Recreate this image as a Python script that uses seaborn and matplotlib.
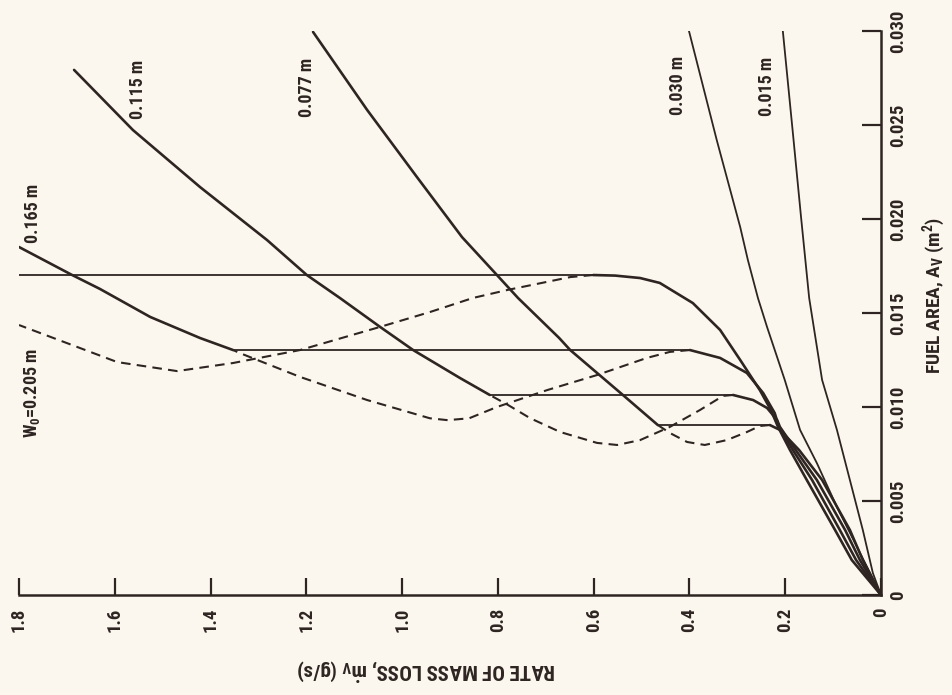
import matplotlib
matplotlib.use("Agg")
import matplotlib.pyplot as plt
from matplotlib import font_manager
import seaborn as sns

# ---- fuel width 0.015 m and 0.030 m : single stable branch ----
W015_AREA = [0, 0.00117, 0.00346, 0.00612, 0.00878, 0.01144, 0.01580, 0.02011, 0.02457, 0.0300]
W015_RATE = [0, 0.017, 0.038, 0.065, 0.092, 0.123, 0.150, 0.167, 0.184, 0.205]

W030_AREA = [0, 0.00255, 0.00468, 0.00702, 0.00878, 0.01144, 0.01426, 0.01580, 0.01782, 0.01957, 0.02420, 0.0300]
W030_RATE = [0, 0.050, 0.092, 0.134, 0.169, 0.201, 0.238, 0.257, 0.278, 0.294, 0.343, 0.401]

# ---- fuel width 0.077 m ----
W077_LO_AREA = [0, 0.00186, 0.00346, 0.00612, 0.00771, 0.00878, 0.00904]
W077_LO_RATE = [0, 0.038, 0.065, 0.123, 0.171, 0.211, 0.232]
W077_MID_AREA = [0.00904, 0.00899, 0.00867, 0.00824, 0.00798, 0.00814, 0.00862, 0.00904]
W077_MID_RATE = [0.232, 0.253, 0.280, 0.322, 0.368, 0.405, 0.441, 0.466]
W077_HI_AREA = [0.00904, 0.01064, 0.01303, 0.01367, 0.01580, 0.01702, 0.01904, 0.02223, 0.02580, 0.02995]
W077_HI_RATE = [0.466, 0.539, 0.649, 0.672, 0.758, 0.802, 0.875, 0.969, 1.073, 1.186]

# ---- fuel width 0.115 m ----
W115_LO_AREA = [0, 0.00186, 0.00346, 0.00612, 0.00771, 0.00894, 0.00931, 0.00995, 0.01037, 0.01064]
W115_LO_RATE = [0, 0.044, 0.075, 0.134, 0.178, 0.211, 0.217, 0.238, 0.267, 0.309]
W115_MID_AREA = [0.01064, 0.01059, 0.00984, 0.00894, 0.00824, 0.00798, 0.00809, 0.00867, 0.00941, 0.01011, 0.01064]
W115_MID_RATE = [0.309, 0.330, 0.378, 0.441, 0.503, 0.551, 0.593, 0.670, 0.733, 0.779, 0.817]
W115_HI_AREA = [0.01064, 0.01154, 0.01303, 0.01426, 0.01580, 0.01702, 0.01888, 0.02170, 0.02473, 0.02793]
W115_HI_RATE = [0.817, 0.879, 0.977, 1.046, 1.130, 1.199, 1.282, 1.422, 1.562, 1.685]

# ---- fuel width 0.165 m ----
W165_LO_AREA = [0, 0.00186, 0.00346, 0.00612, 0.00771, 0.00894, 0.00968, 0.01074, 0.01181, 0.01261, 0.01303]
W165_LO_RATE = [0, 0.052, 0.086, 0.144, 0.184, 0.213, 0.222, 0.246, 0.280, 0.336, 0.399]
W165_MID_AREA = [0.01303, 0.01293, 0.01261, 0.01170, 0.01090, 0.01000, 0.00940, 0.00930, 0.00940, 0.01037, 0.01160, 0.01287, 0.01303]
W165_MID_RATE = [0.399, 0.441, 0.489, 0.593, 0.697, 0.802, 0.860, 0.905, 0.942, 1.073, 1.213, 1.339, 1.353]
W165_HI_AREA = [0.01303, 0.01367, 0.01479, 0.01628, 0.01702, 0.01851]
W165_HI_RATE = [1.353, 1.422, 1.526, 1.631, 1.689, 1.800]

# ---- fuel width 0.205 m ----
W205_LO_AREA = [0, 0.00186, 0.00346, 0.00612, 0.00771, 0.00894, 0.00984, 0.01090, 0.01250, 0.01410,
                0.01553, 0.01660, 0.01686, 0.01699, 0.01702]
W205_LO_RATE = [0, 0.061, 0.096, 0.155, 0.190, 0.215, 0.230, 0.253, 0.294, 0.336,
                0.393, 0.462, 0.503, 0.555, 0.601]
W205_MID_AREA = [0.01702, 0.01691, 0.01622, 0.01580, 0.01505, 0.01426, 0.01303, 0.01234, 0.01191, 0.01239, 0.01340, 0.01436]
W205_MID_RATE = [0.601, 0.649, 0.781, 0.852, 0.942, 1.046, 1.213, 1.353, 1.470, 1.595, 1.700, 1.800]

# ---- jumps between branches (constant fuel area) ----
JUMP_AREA = [0.01702, 0.01303, 0.01064, 0.00904]
JUMP_LOW = [0.601, 0.399, 0.309, 0.232]
JUMP_HIGH = [1.800, 1.353, 0.817, 0.466]

# ---- curve labels ----
CURVE_LABELS = [r"W$_\mathregular{0}$=0.205 m", "0.165 m", "0.115 m", "0.077 m", "0.030 m", "0.015 m"]
LABEL_RATE = [1.773, 1.771, 1.552, 1.199, 0.424, 0.238]
LABEL_AREA = [0.01074, 0.02032, 0.02691, 0.02702, 0.02713, 0.02707]

# ---- axes ----
RATE_TICKS = [0, 0.2, 0.4, 0.6, 0.8, 1.0, 1.2, 1.4, 1.6, 1.8]
RATE_TICK_LABELS = ["0", "0.2", "0.4", "0.6", "0.8", "1.0", "1.2", "1.4", "1.6", "1.8"]
AREA_TICKS = [0, 0.005, 0.010, 0.015, 0.020, 0.025, 0.030]
AREA_TICK_LABELS = ["0", "0.005", "0.010", "0.015", "0.020", "0.025", "0.030"]

INK = "#2e2522"
PAPER = "#fbf7ee"

sns.set_theme(style="white")
installed = {f.name for f in font_manager.fontManager.ttflist}
FONT = next((f for f in ["Liberation Sans Narrow", "Roboto Condensed", "Liberation Sans", "DejaVu Sans"]
             if f in installed), "DejaVu Sans")
plt.rcParams["font.family"] = [FONT, "DejaVu Sans"]
plt.rcParams["font.weight"] = "bold"
plt.rcParams["mathtext.fontset"] = "custom"
plt.rcParams["mathtext.rm"] = FONT + ":bold"
plt.rcParams["mathtext.it"] = FONT + ":bold"
plt.rcParams["mathtext.bf"] = FONT + ":bold"

W, H = 953, 695
fig = plt.figure(figsize=(W / 100, H / 100), dpi=100, facecolor=PAPER)
ax = fig.add_axes([19 / W, 100 / H, 862 / W, 564 / H])
ax.set_facecolor(PAPER)


def draw(rate, area, lw, dashed=False):
    sns.lineplot(x=rate, y=area, ax=ax, sort=False, estimator=None, color=INK, lw=lw)
    line = ax.lines[-1]
    line.set_solid_capstyle("round")
    line.set_solid_joinstyle("round")
    if dashed:
        line.set_dashes((4.6, 3.0))
        line.set_dash_capstyle("butt")


# single-branch curves
draw(W015_RATE, W015_AREA, 1.3)
draw(W030_RATE, W030_AREA, 1.3)

# stable (solid) and unstable (dashed) branches
for lo_r, lo_a in [(W077_LO_RATE, W077_LO_AREA), (W115_LO_RATE, W115_LO_AREA),
                   (W165_LO_RATE, W165_LO_AREA), (W205_LO_RATE, W205_LO_AREA)]:
    draw(lo_r, lo_a, 1.9)
for hi_r, hi_a in [(W077_HI_RATE, W077_HI_AREA), (W115_HI_RATE, W115_HI_AREA),
                   (W165_HI_RATE, W165_HI_AREA)]:
    draw(hi_r, hi_a, 1.9)
for mid_r, mid_a in [(W077_MID_RATE, W077_MID_AREA), (W115_MID_RATE, W115_MID_AREA),
                     (W165_MID_RATE, W165_MID_AREA), (W205_MID_RATE, W205_MID_AREA)]:
    draw(mid_r, mid_a, 1.5, dashed=True)

# jumps
for a, r0, r1 in zip(JUMP_AREA, JUMP_LOW, JUMP_HIGH):
    draw([r0, r1], [a, a], 1.3)

for txt, r, a in zip(CURVE_LABELS, LABEL_RATE, LABEL_AREA):
    ax.text(r, a, txt, rotation=90, ha="center", va="center", fontsize=13,
            fontweight="bold", color=INK)

ax.set_xlim(1.8, 0)
ax.set_ylim(0, 0.030)
ax.set_xlabel("")
ax.set_ylabel("")

for side in ["top", "left"]:
    ax.spines[side].set_visible(False)
for side in ["bottom", "right"]:
    ax.spines[side].set_visible(True)
    ax.spines[side].set_color(INK)
    ax.spines[side].set_linewidth(1.8)

ax.yaxis.tick_right()
ax.set_xticks(RATE_TICKS)
ax.set_xticklabels(RATE_TICK_LABELS)
ax.set_yticks(AREA_TICKS)
ax.set_yticklabels(AREA_TICK_LABELS)
ax.tick_params(axis="x", direction="in", length=12, width=1.6, color=INK, pad=9,
               labelrotation=90, labelsize=13.5, labelcolor=INK, bottom=True, top=False)
ax.tick_params(axis="y", direction="in", length=13.5, width=1.6, color=INK, pad=6,
               labelrotation=90, labelsize=13.5, labelcolor=INK, right=True, left=False)
for lab in ax.get_xticklabels() + ax.get_yticklabels():
    lab.set_fontweight("bold")
for lab in ax.get_yticklabels():
    lab.set_verticalalignment("center")
ax.grid(False)

fig.text(426 / W, 1 - 670 / H, r"RATE OF MASS LOSS, $\dot{m}_\mathregular{V}$ (g/s)",
         rotation=180, ha="center", va="center", fontsize=15, fontweight="bold", color=INK)
fig.text(934 / W, 1 - 295 / H, r"FUEL AREA, A$_\mathregular{V}$ (m$^\mathregular{2}$)",
         rotation=90, ha="center", va="center", fontsize=14, fontweight="bold", color=INK)

fig.savefig("out.png", dpi=100, facecolor=PAPER)
